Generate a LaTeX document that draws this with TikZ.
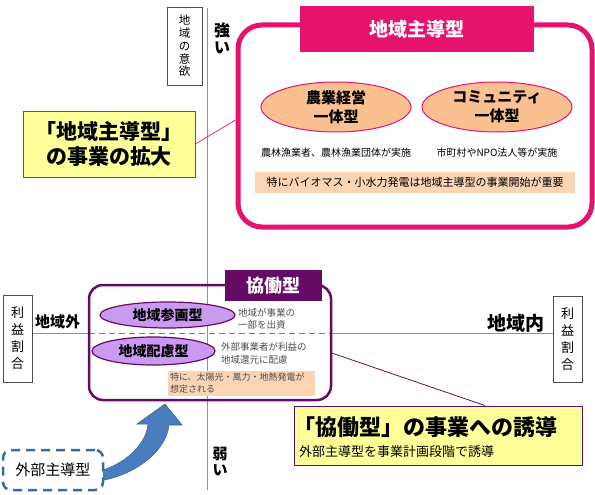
\documentclass[tikz,border=0pt]{standalone}
\usepackage{fontspec}
\setmainfont{Noto Sans CJK JP}
\usetikzlibrary{shapes.geometric}
\definecolor{axisblue}{HTML}{6E96D0}
\definecolor{rosepink}{HTML}{E5126E}
\definecolor{peach}{HTML}{FAC090}
\definecolor{lightpeach}{HTML}{FBD4B4}
\definecolor{callyellow}{HTML}{FFFF99}
\definecolor{plum}{HTML}{650A65}
\definecolor{lavender}{HTML}{C99AF0}
\definecolor{arrowblue}{HTML}{4A7DBE}
\definecolor{dashblue}{HTML}{3E6A9A}
\newcommand\fsz[2]{\fontsize{#1}{#2}\selectfont}
\tikzset{
  axis/.style={draw=axisblue, line width=1pt},
  tagbox/.style={draw=black!70, line width=0.8pt, fill=white, inner sep=0pt, align=center},
  bigbox/.style={rounded corners=20pt, inner sep=0pt},
  titlebox/.style={text=white, inner sep=0pt},
  oval/.style={ellipse, inner sep=0pt, align=center},
  band/.style={inner sep=0pt, align=left},
  callout/.style={fill=callyellow, line width=0.9pt, inner sep=0pt},
}
\begin{document}
\begin{tikzpicture}[x=1pt,y=-1pt]
\useasboundingbox (0,0) rectangle (595,495);

\draw [axis] (207,8) -- (207,490);
\draw [axis] (32,333) -- (89,333);
\draw [axis,dashed,dash pattern=on 6pt off 4pt,draw=axisblue!85!black] (89,333) -- (331,333);
\draw [axis] (331,333) -- (553,333);

% axis labels
\node [tagbox, minimum width=35pt, minimum height=78pt, font=\fsz{11.5}{12.7}] (will) at (184.5,46)
  {地\\域\\の\\意\\欲};
\node [align=center, inner sep=0pt, font=\bfseries\fsz{16}{17}] (strong) at (222,38) {強\\い};
\node [align=center, inner sep=0pt, font=\bfseries\fsz{15}{16}] (weak) at (220,462) {弱\\い};
\node [tagbox, minimum width=29pt, minimum height=87pt, font=\fsz{13}{17}] (shareL) at (17.5,338.5)
  {利\\益\\割\\合};
\node [tagbox, minimum width=29pt, minimum height=86pt, font=\fsz{13}{17}] (shareR) at (567.5,339)
  {利\\益\\割\\合};
\node [font=\bfseries\fsz{15}{16}, inner sep=0pt] (outside) at (57.5,322) {地域外};
\node [font=\bfseries\fsz{19}{20}, inner sep=0pt, anchor=east] (inside) at (545,323) {地域内};

% local type
\node [bigbox, draw=rosepink, line width=5pt, rounded corners=24pt, minimum width=354pt, minimum height=202pt] (local) at (415,126) {};
\node [titlebox, fill=rosepink, minimum width=234pt, minimum height=46pt, font=\bfseries\fsz{19}{20}] (localT) at (417,29) {地域主導型};
\node [oval, draw=rosepink, line width=1pt, fill=peach, minimum width=150pt, minimum height=50pt, font=\bfseries\fsz{15}{19}] (farm) at (336,107)
  {農業経営\\一体型};
\node [oval, draw=rosepink, line width=1pt, fill=peach, minimum width=150pt, minimum height=50pt, font=\bfseries\fsz{15}{19}] (comm) at (497,107)
  {コミュニティ\\一体型};
\node [inner sep=0pt, font=\fsz{10}{11}] (farmtxt) at (336,153) {農林漁業者、農林漁業団体が実施};
\node [inner sep=0pt, font=\fsz{10}{11}] (commtxt) at (497,153) {市町村やNPO法人等が実施};
\node [band, fill=lightpeach, minimum width=320pt, minimum height=21pt, align=center, font=\fsz{11}{12}] (localband) at (415,182.5)
  {特にバイオマス・小水力発電は地域主導型の事業開始が重要};

\node [callout, draw=rosepink, minimum width=172pt, minimum height=66pt, align=center, font=\bfseries\fsz{21}{25}] (callA) at (109,144)
  {「地域主導型」\\の事業の拡大};
\draw [rosepink, line width=0.7pt] (callA.east) -- (local.west |- 0,120);

% collaborative type
\node [bigbox, draw=plum, line width=2.5pt, rounded corners=14pt, minimum width=242pt, minimum height=115pt] (collab) at (210,342.5) {};
\node [titlebox, fill=plum, minimum width=97pt, minimum height=31pt, font=\bfseries\fsz{18}{19}] (collabT) at (273.5,285.5) {協働型};
\node [oval, draw=plum, line width=1.2pt, fill=lavender, minimum width=135pt, minimum height=26pt, font=\bfseries\fsz{14}{15}] (join) at (167.5,315)
  {地域参画型};
\node [oval, draw=plum, line width=1.2pt, fill=lavender, minimum width=123pt, minimum height=28pt, font=\bfseries\fsz{14}{15}] (care) at (153.5,351)
  {地域配慮型};
\node [band, anchor=west, text=black!70, font=\fsz{9.5}{12.5}] (jointxt) at (238,319) {地域が事業の\\一部を出資};
\node [band, anchor=west, text=black!70, font=\fsz{9.5}{13}] (caretxt) at (221,353.5) {外部事業者が利益の\\地域還元に配慮};
\node [band, fill=lightpeach, text=black!70, minimum width=147pt, minimum height=25pt, text width=143pt, font=\fsz{9}{12}] (collabband) at (241.5,383.5)
  {特に、太陽光・風力・地熱発電が\\想定される};

\node [callout, draw=plum, minimum width=288pt, minimum height=59pt] (callB) at (438,435.5) {};
\node [anchor=west, inner sep=0pt, font=\bfseries\fsz{22}{23}] (callBtitle) at (293,427) {「協働型」の事業への誘導};
\node [anchor=west, inner sep=0pt, font=\fsz{13}{14}] (callBsub) at (299,452) {外部主導型を事業計画段階で誘導};
\draw [plum, line width=0.8pt] (collab.355) -- (callB.north -| 485,0);

% external type
\node [draw=dashblue, line width=2.5pt, dash pattern=on 9pt off 6pt, rounded corners=8pt,
       minimum width=100pt, minimum height=40pt, inner sep=0pt, font=\fsz{15}{16}] (ext) at (53,470) {外部主導型};
\filldraw [fill=arrowblue, draw=arrowblue!80!black, line width=0.6pt]
  (103,470) .. controls (128,462) and (147,442) .. (148,424) -- (137,424) -- (165,404)
  -- (182,425) -- (169,425) .. controls (166,452) and (135,474) .. (104,480) -- cycle;
\end{tikzpicture}
\end{document}
